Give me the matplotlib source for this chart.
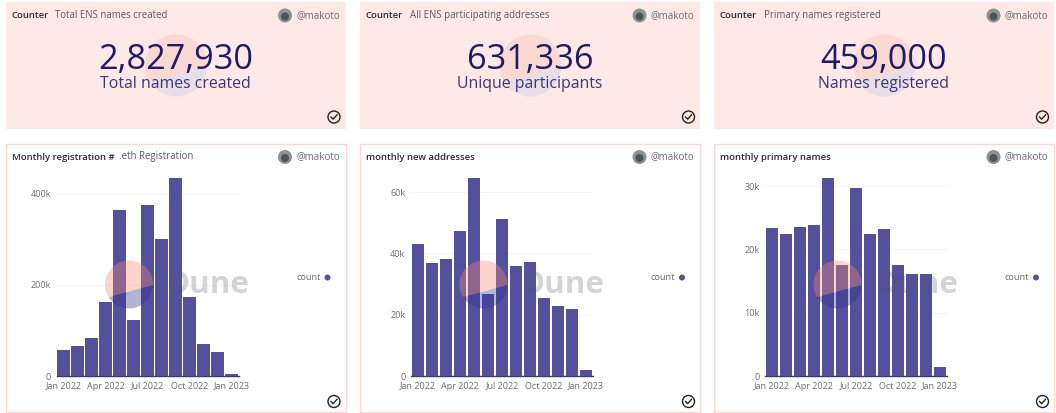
import numpy as np
import matplotlib.pyplot as plt
from matplotlib.patches import Circle, Rectangle, Polygon

plt.rcParams["font.family"] = ["Open Sans", "DejaVu Sans"]

# values (thousands)
months = ["Jan 2022", "Apr 2022", "Jul 2022", "Oct 2022", "Jan 2023"]
month_ticks = [0, 3, 6, 9, 12]
registrations = [58, 67, 84, 162, 364, 123, 376, 300, 435, 173, 70, 52, 4]
new_addresses = [43.0, 36.9, 38.1, 47.2, 64.6, 26.8, 51.2, 36.0, 37.1, 25.5, 22.8, 22.0, 2.0]
primary_names = [23.4, 22.4, 23.5, 23.8, 31.3, 17.5, 29.7, 22.4, 23.2, 17.5, 16.1, 16.2, 1.4]
registrations_ticks = [0, 200, 400]
addresses_ticks = [0, 20, 40, 60]
primary_ticks = [0, 10, 20, 30]

counter_values = ["2,827,930", "631,336", "459,000"]
counter_labels = ["Total names created", "Unique participants", "Names registered"]
counter_subtitles = ["Total ENS names created", "All ENS participating addresses", "Primary names registered"]
chart_titles = ["Monthly registration #", "monthly new addresses", "monthly primary names"]
chart_subtitles = [".eth Registration", "", ""]

card_left = [5.5, 360, 714]
card_right = [345.5, 700, 1053.5]

BAR = "#53519b"
GREY = "#6e6e6e"
DARK = "#2b2b2b"

fig = plt.figure(figsize=(10.56, 4.13), dpi=100, facecolor="white")

# page layer in pixel coordinates, under the bars
bg = fig.add_axes([0, 0, 1, 1], zorder=0)
bg.set_xlim(0, 1056)
bg.set_ylim(413, 0)
bg.axis("off")

# top layer for watermark and text
top = fig.add_axes([0, 0, 1, 1], zorder=5)
top.set_xlim(0, 1056)
top.set_ylim(413, 0)
top.axis("off")
top.patch.set_alpha(0)


def logo(ax, cx, cy, r, pink, blue, alpha, z):
    # the two parts split along a slanted line, each clipped to the disc
    left_y, right_y = cy + r * 0.65, cy - r * 0.06
    far = r * 1.3
    upper = Polygon([(cx - far, left_y), (cx + far, right_y), (cx + far, cy - far), (cx - far, cy - far)],
                    fc=pink, ec="none", alpha=alpha, zorder=z)
    lower = Polygon([(cx - far, left_y), (cx + far, right_y), (cx + far, cy + far), (cx - far, cy + far)],
                    fc=blue, ec="none", alpha=alpha, zorder=z)
    for part in [upper, lower]:
        ax.add_patch(part)
        part.set_clip_path(Circle((cx, cy), r, transform=ax.transData))


def header(ax, left, right, y, title, subtitle, sub_x):
    ax.text(left + 6, y, title, fontsize=6.8, fontweight="semibold", color=DARK, va="center", zorder=8)
    if subtitle:
        ax.text(left + sub_x, y, subtitle, fontsize=6.9, color="#5a5a5a", va="center", zorder=8)
    ax.add_patch(Circle((left + 279.5, y), 7, fc="#8c9490", ec="none", zorder=8))
    ax.add_patch(Circle((left + 279.5, y + 1), 4, fc="#4a5658", ec="none", zorder=8.1))
    ax.text(right - 5.5, y, "@makoto", fontsize=7, color=GREY, va="center", ha="right", zorder=8)


def check(ax, cx, cy):
    ax.add_patch(Circle((cx, cy), 6, fc="none", ec="#222222", lw=1, zorder=8))
    ax.plot([cx - 3, cx - 0.8, cx + 3], [cy, cy + 2.2, cy - 2.2], color="#222222", lw=1, zorder=8)


# counter cards
for i in range(3):
    left, right = card_left[i], card_right[i]
    mid = (left + right) / 2
    bg.add_patch(Rectangle((left, 2), right - left, 127, fc="#fee9e7", ec="none"))
    logo(bg, mid + 0.5, 65.5, 31, "#fbd9d3", "#e6dfe8", 1, 2)
    header(top, left, right, 15.5, "Counter", counter_subtitles[i], 49.5)
    top.text(mid, 60, counter_values[i], fontsize=24.7, color="#1f1a6b",
             ha="center", va="center", zorder=8)
    top.text(mid, 84, counter_labels[i], fontsize=11.4, color="#3d3578",
             ha="center", va="center", zorder=8)
    check(top, left + 328.5, 117)

# bar cards
series = [registrations, new_addresses, primary_names]
ticks = [registrations_ticks, addresses_ticks, primary_ticks]
for i in range(3):
    left, right = card_left[i], card_right[i]
    bg.add_patch(Rectangle((left, 144), right - left, 268, fc="white", ec="#fbd9d3", lw=1))
    header(top, left, right, 157, chart_titles[i], chart_subtitles[i], 113.5)

    ax = fig.add_axes([(left + 51) / 1056, (413 - 376) / 413, 182 / 1056, 198 / 413], zorder=2)
    ax.patch.set_alpha(0)
    ax.bar(range(13), series[i], width=0.89, color=BAR, zorder=3)
    ax.set_xlim(-0.5, 12.5)
    ax.set_ylim(0, max(series[i]))
    ax.set_xticks(month_ticks, months)
    ax.set_yticks(ticks[i], [f"{t}k" if t else "0" for t in ticks[i]])
    ax.tick_params(length=0, labelsize=6.5, labelcolor=GREY, pad=4)
    ax.grid(axis="y", color="#f6f6f6", lw=0.8, zorder=0)
    for side in ["top", "left", "right"]:
        ax.spines[side].set_visible(False)
    ax.spines["bottom"].set_color("#3b3a66")
    ax.spines["bottom"].set_linewidth(1)

    # watermark sits over the bars
    logo(top, left + 123.5, 284.5, 24, "#f58a78", "#2f2f8f", 0.36, 4)
    top.text(left + 161, 285, "Dune", fontsize=22.5, fontweight="bold", color="#555560", alpha=0.25,
             ha="left", va="center", zorder=4)

    top.text(left + 315, 277.5, "count", fontsize=6.6, color=GREY, ha="right", va="center", zorder=8)
    top.add_patch(Circle((left + 322, 277.5), 3, fc=BAR, ec="none", zorder=8))
    check(top, left + 328.5, 401.5)

fig.savefig("out.png", dpi=100)
